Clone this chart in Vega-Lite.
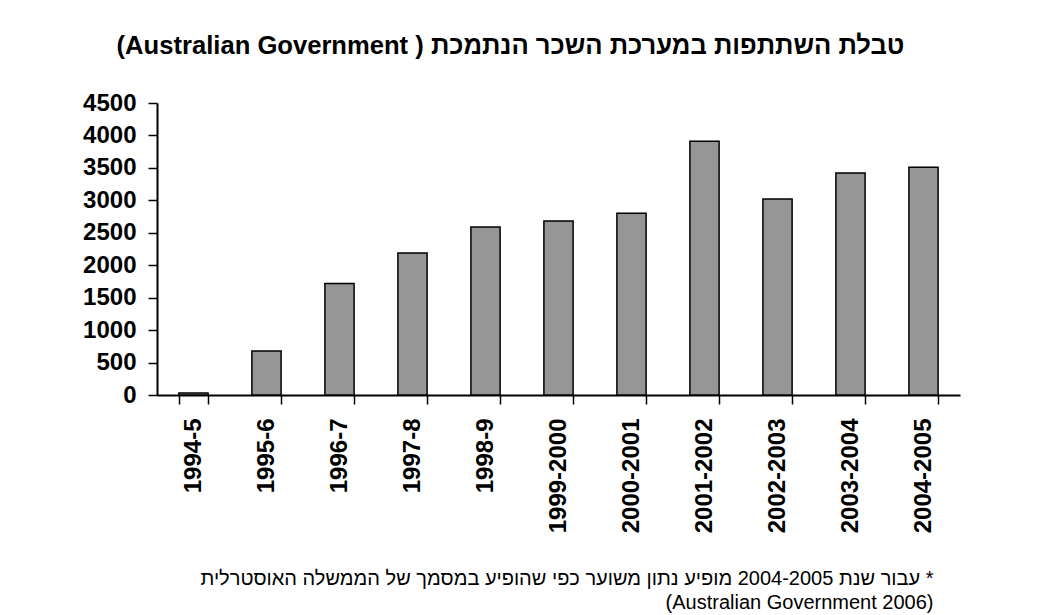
{
  "$schema": "https://vega.github.io/schema/vega-lite/v6.json",
  "autosize": {"type": "none"},
  "width": 803,
  "height": 292,
  "padding": {"left": 157, "top": 103, "right": 82, "bottom": 220},
  "background": "white",
  "title": {
    "text": "(Australian Government ) טבלת השתתפות במערכת השכר הנתמכת",
    "font": "Liberation Sans",
    "fontSize": 25.6,
    "fontWeight": "bold",
    "color": "black",
    "anchor": "middle",
    "dx": -48,
    "offset": 31
  },
  "data": {
    "values": [
      {"year": "1994-5", "value": 30},
      {"year": "1995-6", "value": 680},
      {"year": "1996-7", "value": 1720},
      {"year": "1997-8", "value": 2190},
      {"year": "1998-9", "value": 2590},
      {"year": "1999-2000", "value": 2680},
      {"year": "2000-2001", "value": 2800},
      {"year": "2001-2002", "value": 3910},
      {"year": "2002-2003", "value": 3020},
      {"year": "2003-2004", "value": 3420},
      {"year": "2004-2005", "value": 3510}
    ]
  },
  "mark": {"type": "bar", "fill": "#969696", "stroke": "black", "strokeWidth": 1.5},
  "encoding": {
    "x": {
      "field": "year",
      "type": "nominal",
      "sort": null,
      "scale": {"paddingInner": 0.6, "paddingOuter": 0.3},
      "axis": {
        "title": "עבור שנת  2004-2005 מופיע נתון משוער כפי שהופיע במסמך של הממשלה האוסטרלית *",
        "titleFont": "Liberation Sans",
        "titleFontSize": 20,
        "titleFontWeight": "normal",
        "titleColor": "black",
        "titleAnchor": "end",
        "titleAlign": "right",
        "titleBaseline": "alphabetic",
        "titleX": 776,
        "titleY": 189,
        "labelAngle": -90,
        "labelAlign": "right",
        "labelBaseline": "middle",
        "labelFont": "Liberation Sans",
        "labelFontSize": 24,
        "labelFontWeight": "bold",
        "labelColor": "black",
        "labelPadding": 14,
        "tickBand": "extent",
        "tickSize": 9,
        "tickWidth": 1.5,
        "tickColor": "black",
        "domainColor": "black",
        "domainWidth": 2,
        "grid": false
      }
    },
    "y": {
      "field": "value",
      "type": "quantitative",
      "scale": {"domain": [0, 4500], "nice": false},
      "axis": {
        "title": "(Australian Government 2006)",
        "titleFont": "Liberation Sans",
        "titleFontSize": 20,
        "titleFontWeight": "normal",
        "titleColor": "black",
        "titleAngle": 0,
        "titleAlign": "right",
        "titleBaseline": "alphabetic",
        "titleX": 776,
        "titleY": 505,
        "format": "d",
        "values": [0, 500, 1000, 1500, 2000, 2500, 3000, 3500, 4000, 4500],
        "labelFont": "Liberation Sans",
        "labelFontSize": 24,
        "labelFontWeight": "bold",
        "labelColor": "black",
        "labelPadding": 12,
        "tickSize": 9,
        "tickWidth": 1.5,
        "tickColor": "black",
        "domainColor": "black",
        "domainWidth": 2,
        "grid": false
      }
    }
  },
  "config": {"view": {"stroke": null}}
}
